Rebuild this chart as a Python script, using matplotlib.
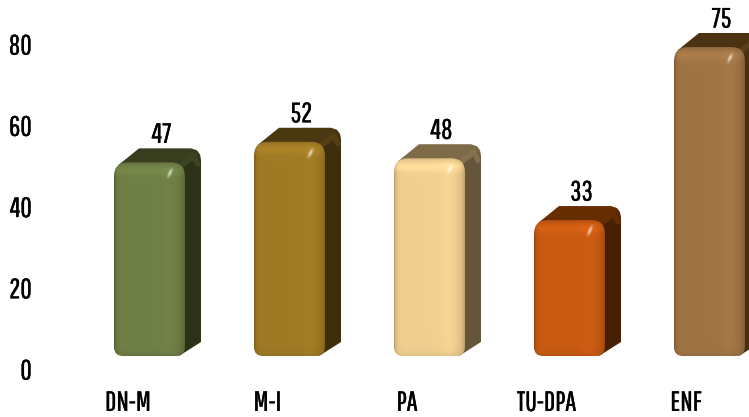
import numpy as np
import matplotlib
matplotlib.use("Agg")
import matplotlib.pyplot as plt
import matplotlib.patheffects as pe
from matplotlib.path import Path
from matplotlib.patches import PathPatch, Polygon
from matplotlib.colors import to_rgb

categories = ["DN-M", "M-I", "PA", "TU-DPA", "ENF"]
values = [47, 52, 48, 33, 75]
front_colors = ["#6f7f45", "#a07a24", "#f0cf90", "#c85a12", "#a07545"]
side_colors = ["#2c3218", "#3d2e0c", "#65553a", "#462000", "#46300f"]
top_colors = ["#383d1e", "#4a3810", "#7d6a47", "#662e00", "#4a3212"]
yticks = [0, 20, 40, 60, 80]

W, H = 749, 417
plt.rcParams["font.family"] = ["Pathway Gothic One", "Antonio", "Abel", "Liberation Sans", "DejaVu Sans"]

fig = plt.figure(figsize=(W / 100, H / 100), dpi=100, facecolor="white")

# bars axes: one unit = 140 px in x, 4.12 px in y
px_x, px_y = 140.0, 4.12
ax = fig.add_axes([0, 0, 1, 1])
ax.axis("off")
xlim = (-149.5 / px_x, (W - 149.5) / px_x)
ylim = (-(H - 356) / px_y, 356 / px_y)

bar_w = 71 / px_x
dx, dy = 16 / px_x, 14 / px_y
heavier = [pe.withStroke(linewidth=0.25, foreground="black")]


def rounded_rect(x0, x1, y0, y1, r_top, r_bot):
    rx, ry = r_top / px_x, r_top / px_y
    bx, by = r_bot / px_x, r_bot / px_y
    verts = [(x0 + bx, y0), (x1 - bx, y0), (x1, y0), (x1, y0 + by), (x1, y1 - ry),
             (x1, y1), (x1 - rx, y1), (x0 + rx, y1), (x0, y1), (x0, y1 - ry),
             (x0, y0 + by), (x0, y0), (x0 + bx, y0), (x0 + bx, y0)]
    codes = [Path.MOVETO, Path.LINETO, Path.CURVE3, Path.CURVE3, Path.LINETO,
             Path.CURVE3, Path.CURVE3, Path.LINETO, Path.CURVE3, Path.CURVE3,
             Path.LINETO, Path.CURVE3, Path.CURVE3, Path.CLOSEPOLY]
    return Path(verts, codes)


def front_image(color, nx=71, ny=200):
    c = np.array(to_rgb(color))
    u = np.linspace(0, 71, nx)
    t = np.linspace(0, ny, ny)
    # soft dark rims, slightly wider on the right
    sx = 1 - 0.22 * np.exp(-u / 2.0) - 0.20 * np.exp(-(71 - u) / 4.0)
    sx += 0.03 * np.exp(-((u - 55) / 8) ** 2)
    # lighter band under the top edge
    sy = 1 + 0.08 * np.exp(-((t - 8) / 5) ** 2) - 0.12 * np.exp(-t / 2.5)
    sy -= 0.08 * np.exp(-(ny - t) / 3.0)
    img = c[None, None, :] * (sx[None, :] * sy[:, None])[:, :, None]
    return np.clip(img, 0, 1)


for i, val in enumerate(values):
    x0, x1 = i - bar_w / 2, i + bar_w / 2

    # top and side faces
    top = Polygon([(x0 + 4 / px_x, val - 3 / px_y), (x0 + dx + 9 / px_x, val + dy),
                   (x1 + dx - 10 / px_x, val + dy), (x1 + dx - 4 / px_x, val + dy - 2 / px_y),
                   (x1 + dx - 1 / px_x, val + dy - 6 / px_y), (x1 + dx, val + dy - 11 / px_y),
                   (x1, val - 10 / px_y)],
                  closed=True, fc=top_colors[i], ec="none", zorder=2)
    ax.add_patch(top)
    side = Polygon([(x1 - 6 / px_x, val - 3 / px_y), (x1 + dx - 4 / px_x, val + dy - 6 / px_y),
                    (x1 + dx, val + dy - 12 / px_y), (x1 + dx, dy), (x1 - 6 / px_x, 0)],
                   closed=True, fc=side_colors[i], ec="none", zorder=2.1)
    ax.add_patch(side)
    # lighter ridge along the back corner of the side face
    ridge_col = tuple(0.75 * np.array(to_rgb(side_colors[i])) + 0.25 * np.array(to_rgb(front_colors[i])))
    ax.plot([x1 - 3 / px_x, x1 + dx - 7 / px_x, x1 + dx - 3 / px_x],
            [val - 3 / px_y, val + dy - 8 / px_y, val + dy - 16 / px_y],
            color=ridge_col, lw=4, alpha=0.9, zorder=2.2, solid_capstyle="round")

    # front face
    im = ax.imshow(front_image(front_colors[i], ny=int(val * px_y)),
                   extent=(x0, x1, 0, val), origin="upper", aspect="auto",
                   interpolation="bilinear", zorder=3)
    clip = PathPatch(rounded_rect(x0, x1, 0, val, 14, 9), transform=ax.transData,
                     fc="none", ec="none")
    ax.add_patch(clip)
    im.set_clip_path(clip)

    # small specular spot
    hx = x1 - 15 / px_x
    hy = val - 11 / px_y
    yy, xx = np.mgrid[-1:1:30j, -1:1:30j]
    alpha = np.exp(-(((xx + yy * 0.5) / 0.32) ** 2 + (yy / 0.7) ** 2))
    spot = np.ones((30, 30, 4))
    spot[..., 3] = alpha * 0.75
    ax.imshow(spot, extent=(hx - 5 / px_x, hx + 5 / px_x, hy - 6 / px_y, hy + 6 / px_y),
              aspect="auto", zorder=4, interpolation="bilinear")

    ax.text(i + 12 / px_x, val + dy + 0.5 / px_y, str(val), ha="center", va="bottom",
            fontsize=20, color="black", zorder=5, path_effects=heavier)

ax.set_xlim(xlim)
ax.set_ylim(ylim)

# tick labels live on their own overlay, the scale sits lower than the bars
tick_ax = fig.add_axes([36 / W, (H - 369) / H, (W - 36) / W, (369 - 44) / H])
tick_ax.patch.set_alpha(0)
for s in tick_ax.spines.values():
    s.set_visible(False)
tick_ax.set_ylim(0, 80)
tick_ax.set_xlim((36 - 128) / 139.5, (W - 128) / 139.5)
tick_ax.set_yticks(yticks)
tick_ax.set_xticks(range(len(categories)))
tick_ax.set_xticklabels(categories)
tick_ax.tick_params(axis="both", length=0, labelsize=20, colors="black")
tick_ax.tick_params(axis="y", pad=3)
tick_ax.tick_params(axis="x", pad=15)
for lab in tick_ax.get_xticklabels() + tick_ax.get_yticklabels():
    lab.set_path_effects(heavier)

fig.savefig("out.png", dpi=100)
